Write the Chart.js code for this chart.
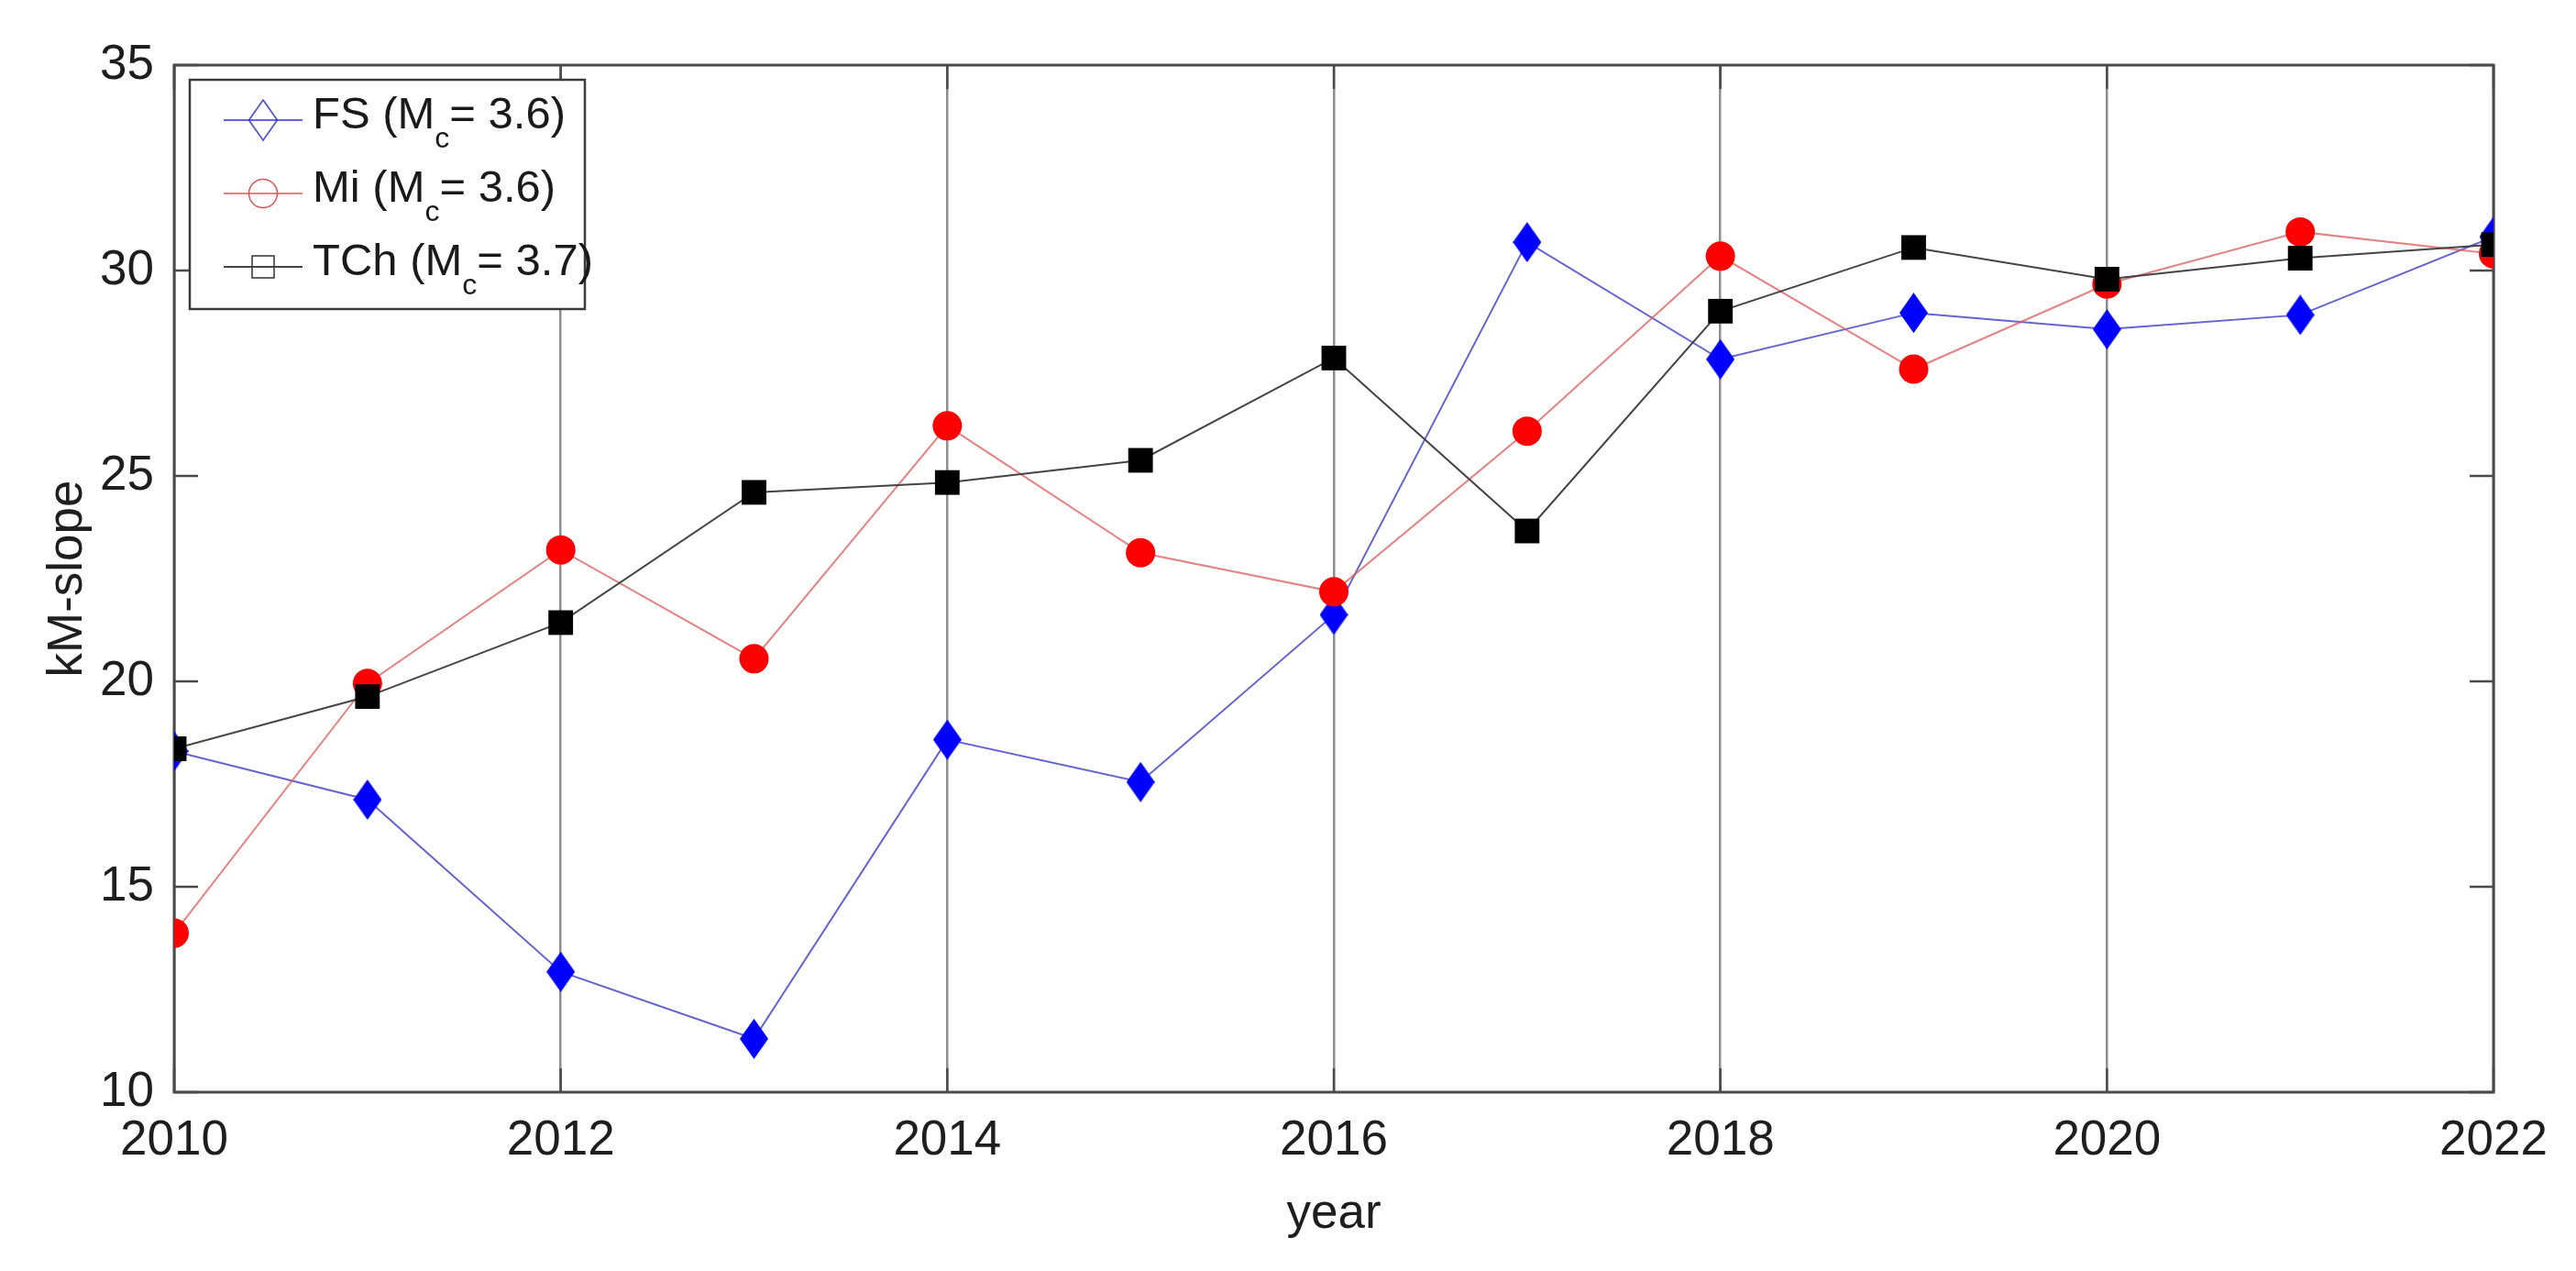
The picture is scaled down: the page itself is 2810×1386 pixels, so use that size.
<!DOCTYPE html>
<html>
<head>
<meta charset="utf-8">
<script src="https://cdn.jsdelivr.net/npm/chart.js@4.4.1/dist/chart.umd.min.js"></script>
<style>
  html, body { margin: 0; padding: 0; background: #fff; }
  #wrap { width: 2810px; height: 1386px; }
</style>
</head>
<body>
<div id="wrap"><canvas id="chart" width="2810" height="1386"></canvas></div>
<script>
const years = [2010, 2011, 2012, 2013, 2014, 2015, 2016, 2017, 2018, 2019, 2020, 2021, 2022];
const fsSlope = [18.3, 17.12, 12.93, 11.3, 18.58, 17.55, 21.62, 30.69, 27.84, 28.97, 28.57, 28.92, 30.82];
const miSlope = [13.87, 19.95, 23.2, 20.55, 26.22, 23.13, 22.18, 26.09, 30.35, 27.6, 29.67, 30.94, 30.41];
const tchSlope = [18.36, 19.63, 21.43, 24.6, 24.84, 25.38, 27.87, 23.66, 29.01, 30.56, 29.79, 30.3, 30.63];
const xTicks = [2010, 2012, 2014, 2016, 2018, 2020, 2022];
const yTicks = [10, 15, 20, 25, 30, 35];
const seriesNames = ['FS', 'Mi', 'TCh'];
const mcValues = ['3.6', '3.6', '3.7'];

const FONT = '"Liberation Sans", Arial, Helvetica, sans-serif';

// tall diamond marker like matlab's 'd'
function makeDiamond(w, h, fill, stroke, lw) {
  const c = document.createElement('canvas');
  c.width = w + lw * 2;
  c.height = h + lw * 2;
  const g = c.getContext('2d');
  const cx = c.width / 2, cy = c.height / 2;
  g.beginPath();
  g.moveTo(cx, cy - h / 2);
  g.lineTo(cx + w / 2, cy);
  g.lineTo(cx, cy + h / 2);
  g.lineTo(cx - w / 2, cy);
  g.closePath();
  if (fill) { g.fillStyle = fill; g.fill(); }
  if (stroke) { g.strokeStyle = stroke; g.lineWidth = lw; g.stroke(); }
  return c;
}

const pts = arr => years.map((yr, i) => ({ x: yr, y: arr[i] }));

const frame = {
  id: 'frame',
  beforeDatasetsDraw(chart) {
    const { ctx, chartArea: { left, right, top, bottom }, scales: { x, y } } = chart;
    ctx.save();
    ctx.strokeStyle = '#4a4a4a';
    ctx.lineWidth = 3;
    ctx.strokeRect(left, top, right - left, bottom - top);
    ctx.lineWidth = 2.5;
    ctx.beginPath();
    y.ticks.forEach(t => {
      const py = y.getPixelForValue(t.value);
      ctx.moveTo(left, py); ctx.lineTo(left + 26, py);
      ctx.moveTo(right, py); ctx.lineTo(right - 26, py);
    });
    x.ticks.forEach(t => {
      const px = x.getPixelForValue(t.value);
      ctx.moveTo(px, bottom); ctx.lineTo(px, bottom - 26);
      ctx.moveTo(px, top); ctx.lineTo(px, top + 26);
    });
    ctx.stroke();
    ctx.restore();
  }
};

const legendDiamond = makeDiamond(31, 44, null, '#3a3ad0', 1.5);

const legendBox = {
  id: 'legendBox',
  afterDraw(chart) {
    const { ctx, chartArea: { left, top } } = chart;
    const bx = left + 17, by = top + 16, bw = 431, bh = 250;
    ctx.save();
    ctx.fillStyle = '#fff';
    ctx.fillRect(bx, by, bw, bh);
    ctx.strokeStyle = '#3a3a3a';
    ctx.lineWidth = 2.5;
    ctx.strokeRect(bx, by, bw, bh);

    const lineCols = ['rgba(60,60,200,0.8)', 'rgba(220,90,90,0.75)', '#444'];
    seriesNames.forEach((name, i) => {
      const cy = by + 44 + i * 80;
      const mx = bx + 80;
      ctx.strokeStyle = lineCols[i];
      ctx.lineWidth = 2;
      ctx.beginPath();
      ctx.moveTo(bx + 37, cy); ctx.lineTo(bx + 123, cy);
      ctx.stroke();
      if (i === 0) {
        ctx.drawImage(legendDiamond, mx - legendDiamond.width / 2, cy - legendDiamond.height / 2);
      } else if (i === 1) {
        ctx.strokeStyle = '#e05050';
        ctx.lineWidth = 1.5;
        ctx.beginPath();
        ctx.arc(mx, cy, 15.5, 0, Math.PI * 2);
        ctx.stroke();
      } else {
        ctx.strokeStyle = '#333';
        ctx.lineWidth = 1.5;
        ctx.strokeRect(mx - 12, cy - 12, 24, 24);
      }
      // label with subscript c
      const base = cy + 9;
      let tx = bx + 134;
      ctx.fillStyle = '#1a1a1a';
      ctx.textBaseline = 'alphabetic';
      ctx.textAlign = 'left';
      ctx.font = '49px ' + FONT;
      const a = name + ' (M';
      ctx.fillText(a, tx, base);
      tx += ctx.measureText(a).width;
      ctx.font = '32px ' + FONT;
      ctx.fillText('c', tx, base + 21);
      tx += ctx.measureText('c').width;
      ctx.font = '49px ' + FONT;
      ctx.fillText('= ' + mcValues[i] + ')', tx, base);
    });
    ctx.restore();
  }
};

const ctx = document.getElementById('chart').getContext('2d');
const chart = new Chart(ctx, {
  type: 'line',
  data: {
    datasets: [
      {
        label: 'FS',
        data: pts(fsSlope),
        borderColor: 'rgba(60,60,200,0.8)',
        borderWidth: 2,
        pointStyle: makeDiamond(31, 44, '#0000ff', null, 0),
        pointBackgroundColor: '#0000ff',
        order: 2
      },
      {
        label: 'Mi',
        data: pts(miSlope),
        borderColor: 'rgba(220,90,90,0.75)',
        borderWidth: 2,
        pointStyle: 'circle',
        pointRadius: 16,
        pointBackgroundColor: '#ff0000',
        pointBorderColor: '#ff0000',
        pointBorderWidth: 0,
        order: 1
      },
      {
        label: 'TCh',
        data: pts(tchSlope),
        borderColor: '#444',
        borderWidth: 2,
        pointStyle: 'rect',
        pointRadius: 19,
        pointBackgroundColor: '#000',
        pointBorderColor: '#000',
        pointBorderWidth: 0,
        order: 0
      }
    ]
  },
  options: {
    responsive: false,
    animation: false,
    devicePixelRatio: 1,
    layout: { padding: { top: 71, right: 90, left: 0, bottom: 0 } },
    elements: { line: { tension: 0, fill: false } },
    plugins: {
      legend: { display: false },
      tooltip: { enabled: false }
    },
    scales: {
      x: {
        type: 'linear',
        min: 2010,
        max: 2022,
        afterBuildTicks: s => { s.ticks = xTicks.map(v => ({ value: v })); },
        afterFit: s => { s.height = 195; },
        grid: { color: '#8e8e8e', lineWidth: 2.5, drawTicks: false },
        border: { display: false },
        ticks: {
          padding: 22,
          color: '#1e1e1e',
          font: { family: FONT, size: 53 },
          callback: v => String(v),
          maxRotation: 0
        },
        title: {
          display: true,
          text: 'year',
          color: '#1e1e1e',
          font: { family: FONT, size: 53 },
          padding: { top: 0, bottom: 30 }
        }
      },
      y: {
        min: 10,
        max: 35,
        afterBuildTicks: s => { s.ticks = yTicks.map(v => ({ value: v })); },
        afterFit: s => { s.width = 190; },
        grid: { display: false, drawTicks: false },
        border: { display: false },
        ticks: {
          padding: 22,
          color: '#1e1e1e',
          font: { family: FONT, size: 53 }
        },
        title: {
          display: true,
          text: 'kM-slope',
          color: '#1e1e1e',
          font: { family: FONT, size: 53 },
          padding: { top: 43, bottom: 0 }
        }
      }
    }
  },
  plugins: [frame, legendBox]
});
</script>
</body>
</html>
